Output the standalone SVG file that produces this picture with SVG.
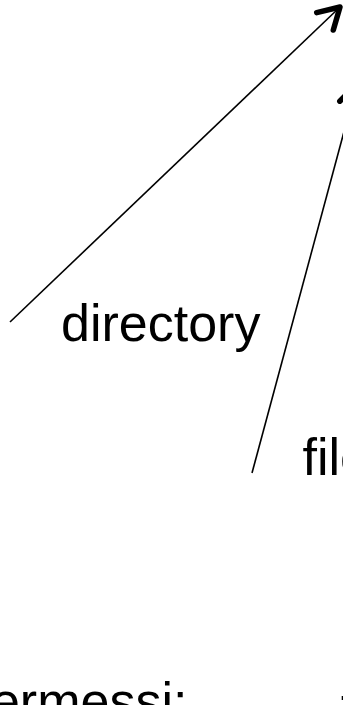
<svg xmlns="http://www.w3.org/2000/svg" width="343" height="705" viewBox="0 0 343 705">
<style>
  .lbl { font-family: "Liberation Sans", Arial, sans-serif; font-size: 52px; fill: #000; }
  .conn { stroke: #000; stroke-width: 1.6; fill: none; }
  .head { fill: none; stroke: #000; stroke-width: 5.5; stroke-linecap: round; stroke-linejoin: round; }
</style>
<rect width="343" height="705" fill="#fff"/>
<g id="connectors">
  <line class="conn" x1="10" y1="322" x2="340" y2="7"/>
  <path class="head" d="M316.7,12.7 L340,7 L333.3,30"/>
  <line class="conn" x1="252" y1="473" x2="356.8" y2="84.2"/>
  <path class="head" d="M339.8,101.2 L356.8,84.2 L363,107.4"/>
  <line class="conn" x1="342.5" y1="696" x2="342.5" y2="700"/>
</g>
<g id="label-directory">
  <text class="lbl" x="61" y="341">directory</text>
</g>
<g id="label-file">
  <text class="lbl" x="302.5" y="475">file</text>
</g>
<g id="label-permessi">
  <text class="lbl" x="-38" y="719">permessi:</text>
</g>
</svg>
